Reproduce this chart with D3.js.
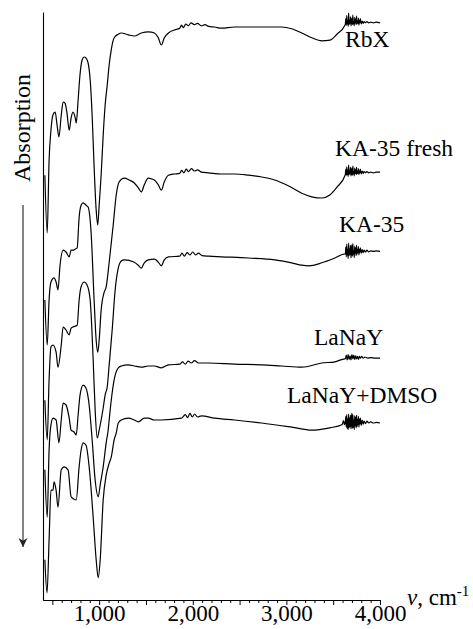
<!DOCTYPE html>
<html>
<head>
<meta charset="utf-8">
<script src="https://cdn.jsdelivr.net/npm/d3@7"></script>
<style>
body { margin: 0; background: #fff; }
text { font-family: "Liberation Serif", "Times New Roman", serif; fill: #000; }
</style>
</head>
<body>
<div id="chart"></div>
<script>
// IR spectra, wavenumber (cm-1) vs absorption in arbitrary units (curves stacked)
var names = ["RbX", "KA-35 fresh", "KA-35", "LaNaY", "LaNaY+DMSO"];

var rbx = [[420,70.8],[445,61.2],[465,73.3],[485,78.3],[505,80.8],[530,81.3],[550,79.2],[570,77.2],[595,80.8],[615,83.0],[635,82.8],[655,81.3],[680,78.3],[700,80.3],[720,81.3],[745,80.3],[755,79.5],[775,83.3],[795,87.5],[818,90.0],[840,90.5],[860,90.3],[882,89.5],[904,86.7],[925,80.8],[946,72.2],[968,65.0],[985,62.5],[1000,65.8],[1021,70.8],[1043,77.5],[1064,82.5],[1086,85.8],[1107,89.2],[1129,91.7],[1160,93.7],[1204,94.3],[1236,94.5],[1311,94.2],[1375,94.0],[1450,94.5],[1525,94.7],[1590,94.5],[1632,93.7],[1664,92.5],[1696,93.7],[1740,94.5],[1804,95.0],[1860,95.3],[1880,95.8],[1900,95.4],[1925,96.0],[1954,95.7],[1980,96.2],[2018,95.9],[2050,96.1],[2093,95.7],[2130,95.9],[2168,95.6],[2232,95.5],[2307,95.3],[2446,95.5],[2811,95.5],[2950,95.5],[3057,95.2],[3164,94.5],[3271,93.7],[3379,93.2],[3464,93.3],[3540,94.3],[3625,95.8],
  [3630,96.0],[3635,96.9],[3640,95.8],[3645,97.4],[3650,96.0],[3655,96.5],[3660,95.6],[3665,97.8],[3670,95.9],[3675,96.6],[3680,96.1],[3685,97.2],[3690,95.7],[3695,96.4],[3700,97.0],[3705,95.9],[3710,97.5],[3715,96.0],[3720,96.3],[3725,95.7],[3730,97.1],[3735,96.2],[3740,96.8],[3745,95.9],[3750,97.3],[3755,96.0],[3760,96.5],[3765,96.1],[3770,97.0],[3775,95.8],[3780,96.6],[3785,96.2],[3790,96.9],[3800,96.0],[3810,96.5],[3820,96.1],[3830,96.4],[3845,96.2],[3860,96.4],[3880,96.2],[3900,96.3],[3930,96.2],[3960,96.3],[4000,96.2]];

var ka35fresh = [[420,50.0],[445,42.5],[465,50.0],[485,53.0],[518,53.7],[540,53.0],[560,51.7],[582,55.8],[615,58.3],[646,58.0],[680,57.2],[700,58.3],[720,58.3],[745,58.5],[765,58.7],[786,63.8],[807,65.8],[829,66.2],[860,65.8],[882,65.5],[914,61.2],[946,50.0],[968,43.3],[985,41.3],[1000,43.3],[1021,48.3],[1054,51.3],[1075,52.2],[1107,56.3],[1150,62.5],[1182,67.5],[1214,69.7],[1268,70.3],[1321,70.0],[1375,69.5],[1418,68.7],[1450,68.0],[1482,69.2],[1525,70.3],[1557,70.2],[1590,70.0],[1632,69.2],[1664,68.3],[1696,69.7],[1740,70.8],[1804,71.0],[1860,71.1],[1880,71.6],[1905,71.2],[1930,71.8],[1954,71.4],[1985,71.9],[2018,71.5],[2050,71.7],[2093,71.3],[2168,71.2],[2307,71.0],[2446,71.0],[2596,70.8],[2736,70.5],[2875,70.0],[3025,69.0],[3164,67.8],[3271,67.2],[3379,67.0],[3464,67.5],[3540,68.8],[3625,70.7],
  [3630,71.0],[3635,71.8],[3640,70.8],[3645,72.2],[3650,70.9],[3655,71.6],[3660,70.6],[3665,72.5],[3670,70.9],[3675,71.5],[3680,71.0],[3685,72.1],[3690,70.7],[3695,71.4],[3700,72.0],[3705,70.8],[3710,72.3],[3715,71.0],[3720,71.3],[3725,70.7],[3730,72.0],[3735,71.1],[3740,71.7],[3745,70.9],[3750,72.1],[3755,71.0],[3760,71.5],[3765,71.1],[3770,71.9],[3775,70.9],[3780,71.5],[3785,71.2],[3790,71.8],[3800,71.0],[3810,71.5],[3820,71.1],[3830,71.4],[3845,71.2],[3860,71.4],[3880,71.2],[3900,71.3],[3930,71.2],[3960,71.3],[4000,71.3]];

var ka35 = [[420,33.3],[445,26.7],[465,36.7],[485,42.2],[507,42.5],[540,41.3],[560,38.8],[595,42.5],[615,45.5],[646,45.0],[680,44.2],[700,45.3],[720,45.5],[765,45.8],[786,50.0],[807,52.2],[840,53.0],[871,52.5],[904,50.0],[936,40.0],[957,31.7],[979,27.0],[1000,28.3],[1021,30.0],[1043,32.0],[1064,34.2],[1086,35.5],[1107,39.2],[1139,45.0],[1171,51.7],[1204,55.3],[1236,56.5],[1268,56.7],[1375,56.3],[1418,55.8],[1450,55.3],[1482,56.2],[1525,56.7],[1590,56.8],[1632,56.3],[1664,55.7],[1696,56.7],[1740,57.2],[1860,57.3],[1885,57.8],[1910,57.3],[1940,57.9],[1970,57.5],[2000,58.0],[2030,57.5],[2060,57.8],[2100,57.4],[2168,57.3],[2307,57.2],[2596,57.0],[2875,56.7],[3057,56.2],[3164,55.8],[3240,55.7],[3379,56.2],[3518,57.0],[3625,57.7],
  [3630,57.7],[3635,58.8],[3640,57.2],[3645,59.3],[3650,57.5],[3655,58.4],[3660,56.9],[3665,59.5],[3670,57.4],[3675,58.5],[3680,57.6],[3685,59.1],[3690,57.0],[3695,58.3],[3700,59.2],[3705,57.3],[3710,59.4],[3715,57.6],[3720,58.2],[3725,57.1],[3730,59.0],[3735,57.8],[3740,58.7],[3745,57.4],[3750,59.1],[3755,57.6],[3760,58.4],[3765,57.9],[3770,58.9],[3775,57.5],[3780,58.4],[3785,57.9],[3790,58.7],[3800,57.8],[3810,58.4],[3820,57.9],[3830,58.3],[3845,58.0],[3860,58.3],[3880,58.0],[3900,58.2],[3930,58.1],[3960,58.2],[4000,58.1]];

var lanay = [[420,21.7],[445,13.8],[465,25.0],[485,29.2],[507,30.3],[540,30.0],[570,26.2],[595,30.0],[615,32.8],[646,32.5],[680,30.3],[700,28.3],[732,28.0],[755,27.5],[775,30.8],[796,34.2],[829,35.8],[860,35.3],[893,32.5],[925,26.7],[957,20.0],[990,17.2],[1011,19.2],[1043,22.2],[1075,26.2],[1096,28.3],[1107,30.0],[1129,33.3],[1160,36.7],[1204,38.7],[1236,39.0],[1311,39.2],[1375,39.0],[1450,38.8],[1525,39.0],[1590,39.0],[1664,38.7],[1740,39.2],[1860,39.3],[1890,39.7],[1920,39.3],[1950,39.8],[1985,39.5],[2018,39.9],[2060,39.5],[2168,39.5],[2446,39.3],[2736,39.2],[2950,39.0],[3164,38.8],[3379,39.5],[3518,39.7],[3625,40.2],
  [3630,40.2],[3640,40.8],[3650,40.0],[3660,40.9],[3670,40.1],[3680,40.7],[3690,40.0],[3700,40.9],[3710,40.2],[3720,40.8],[3730,40.1],[3740,40.7],[3750,40.2],[3760,40.6],[3770,40.1],[3780,40.6],[3790,40.3],[3805,40.6],[3820,40.3],[3840,40.5],[3870,40.3],[3900,40.4],[3950,40.3],[4000,40.3]];

var lanayDmso = [[420,6.7],[443,1.2],[465,10.0],[485,18.3],[507,18.3],[518,19.7],[540,18.3],[560,15.5],[595,21.7],[625,22.2],[668,21.7],[700,17.2],[732,16.8],[755,16.7],[786,22.2],[807,25.0],[829,26.2],[860,25.8],[893,22.2],[936,13.8],[968,6.7],[990,3.7],[1011,6.7],[1043,16.7],[1075,20.8],[1107,22.8],[1129,23.8],[1160,26.7],[1182,27.8],[1204,29.5],[1236,30.0],[1311,30.3],[1375,30.0],[1418,29.7],[1482,30.3],[1525,30.3],[1590,30.0],[1664,30.0],[1880,30.3],[1920,30.9],[1945,30.4],[1970,31.1],[1995,30.5],[2020,31.0],[2050,30.5],[2093,30.7],[2232,30.3],[2446,30.0],[2736,29.5],[3057,28.8],[3271,28.3],[3464,28.7],[3593,29.2],
  [3600,29.4],[3610,29.9],[3620,29.2],[3630,29.8],[3635,30.6],[3640,28.8],[3645,30.9],[3650,28.6],[3655,30.2],[3660,28.4],[3665,31.0],[3670,28.7],[3675,30.3],[3680,28.9],[3685,30.8],[3690,28.5],[3695,30.1],[3700,31.1],[3705,28.6],[3710,30.9],[3715,28.8],[3720,30.0],[3725,28.4],[3730,30.7],[3735,29.0],[3740,30.5],[3745,28.7],[3750,30.8],[3755,28.9],[3760,30.1],[3765,29.2],[3770,30.6],[3775,28.8],[3780,30.2],[3785,29.3],[3790,30.3],[3800,29.1],[3810,30.0],[3820,29.3],[3830,29.8],[3845,29.4],[3860,29.8],[3880,29.5],[3900,29.7],[3930,29.5],[3960,29.6],[4000,29.5]];

var spectra = [rbx, ka35fresh, ka35, lanay, lanayDmso];
var xLabelTicks = [1000, 2000, 3000, 4000];

var width = 473, height = 629;
var svg = d3.select("#chart").append("svg")
	.attr("width", width)
	.attr("height", height);

var x = d3.scaleLinear().domain([400, 4000]).range([43, 380]);
var y = d3.scaleLinear().domain([0, 98]).range([600, 12]);

//minor ticks every 100, longer every 500
svg.append("g")
	.attr("transform", "translate(0,600)")
	.call(d3.axisBottom(x).tickValues(d3.range(500, 4001, 100).filter(function(d){ return d % 500 != 0; }))
		.tickSize(3).tickSizeOuter(0).tickFormat(""));
svg.append("g")
	.attr("transform", "translate(0,600)")
	.call(d3.axisBottom(x).tickValues(d3.range(500, 4001, 500))
		.tickSize(5).tickSizeOuter(0)
		.tickFormat(function(d){ return xLabelTicks.indexOf(d) >= 0 ? d3.format(",")(d) : ""; }));
svg.selectAll(".tick text")
	.attr("y", 5)
	.attr("dy", "0.71em")
	.style("font-family", '"Liberation Serif", serif')
	.style("font-size", "23px");
svg.selectAll(".domain").attr("stroke-width", 1.1);

//y axis is a plain line, no ticks
svg.append("g")
	.attr("transform", "translate(43,0)")
	.call(d3.axisLeft(y).tickValues([]).tickSizeOuter(0))
	.select(".domain").attr("stroke-width", 1.1);

var line = d3.line()
	.x(function(d){ return x(d[0]); })
	.y(function(d){ return y(d[1]); })
	.curve(d3.curveMonotoneX);

svg.selectAll("path.spectrum")
	.data(spectra)
	.enter().append("path")
	.attr("class", "spectrum")
	.attr("d", line)
	.attr("fill", "none")
	.attr("stroke", "#000")
	.attr("stroke-width", 1.2);

var labelPos = [[345, 47], [335, 156], [339, 232], [314, 345], [287, 403]];
svg.selectAll("text.name")
	.data(names)
	.enter().append("text")
	.attr("class", "name")
	.attr("x", function(d, i){ return labelPos[i][0]; })
	.attr("y", function(d, i){ return labelPos[i][1]; })
	.style("font-size", "23.5px")
	.text(function(d){ return d; });

//x axis title
var xt = svg.append("text")
	.attr("x", 407)
	.attr("y", 605)
	.style("font-size", "23px");
xt.append("tspan").style("font-style", "italic").text("v");
xt.append("tspan").text(", cm");
xt.append("tspan").attr("dy", -9).style("font-size", "15px").text("-1");

//absorption arrow
svg.append("defs").append("marker")
	.attr("id", "arrow")
	.attr("viewBox", "0 0 10 10")
	.attr("refX", 10).attr("refY", 5)
	.attr("markerWidth", 9).attr("markerHeight", 9)
	.attr("markerUnits", "userSpaceOnUse")
	.attr("orient", "auto")
	.append("path")
	.attr("d", "M0,0 L10,5 L0,10 L3,5 Z")
	.attr("fill", "#222");
svg.append("line")
	.attr("x1", 23).attr("y1", 205)
	.attr("x2", 23).attr("y2", 547)
	.attr("stroke", "#333")
	.attr("stroke-width", 1.2)
	.attr("marker-end", "url(#arrow)");

svg.append("text")
	.attr("transform", "translate(30,128) rotate(-90)")
	.attr("text-anchor", "middle")
	.style("font-size", "24px")
	.text("Absorption");
</script>
</body>
</html>
